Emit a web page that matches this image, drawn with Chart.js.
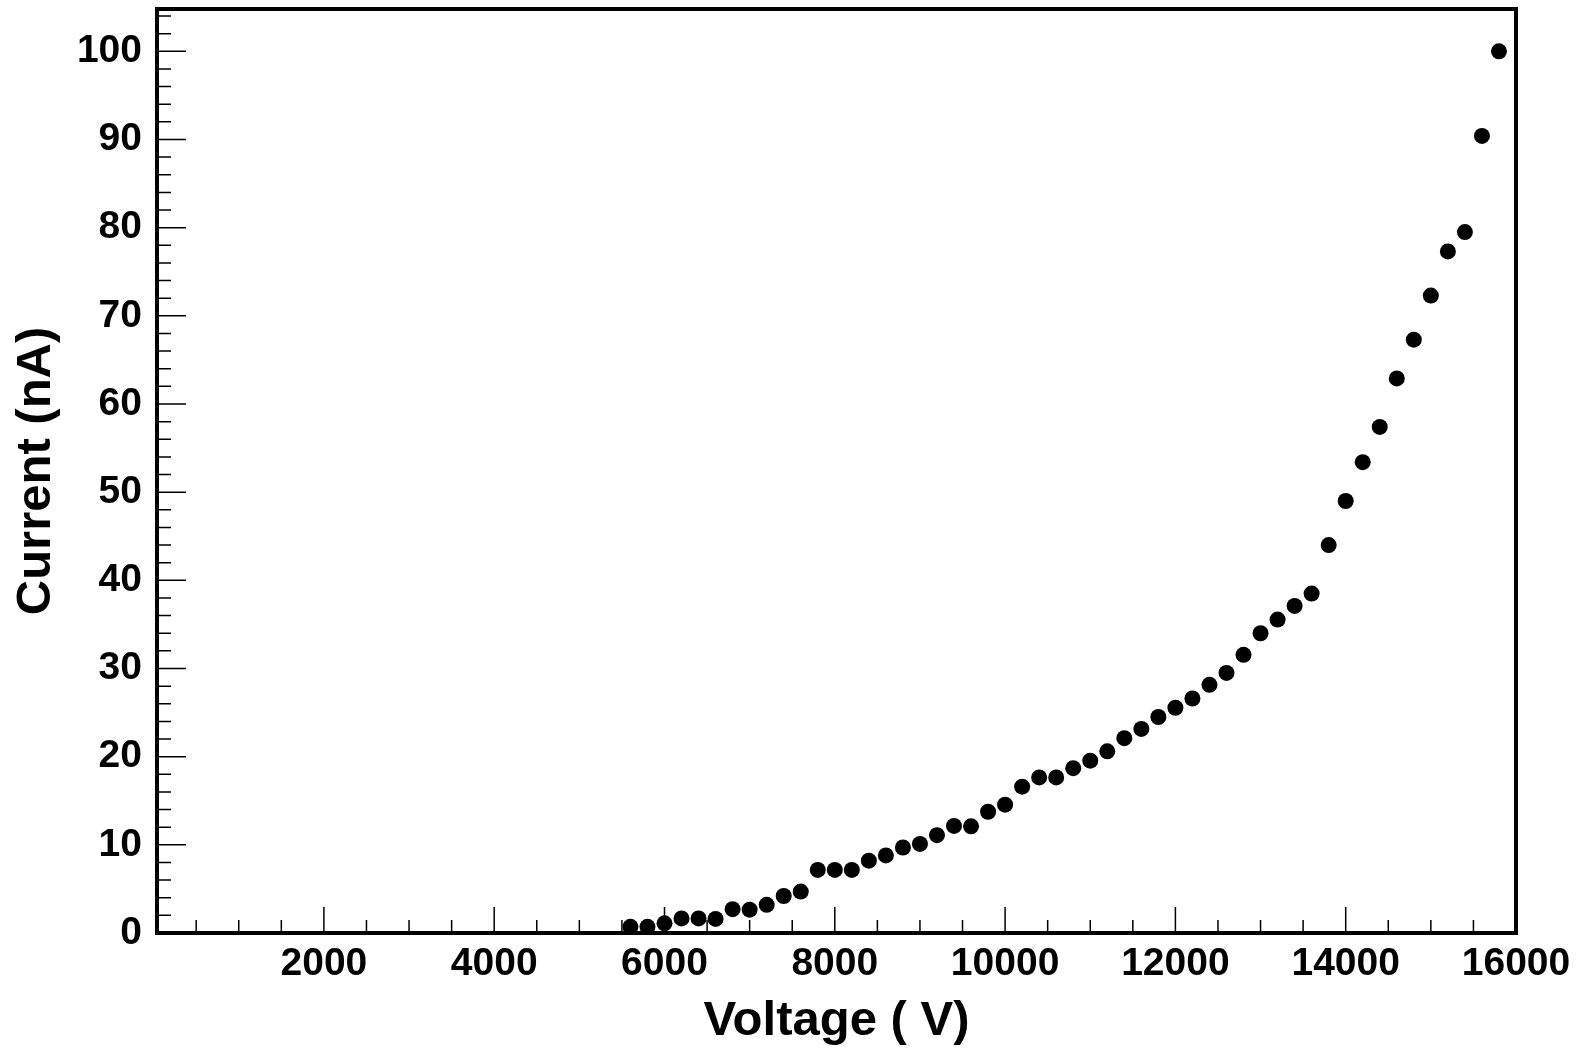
<!DOCTYPE html>
<html>
<head>
<meta charset="utf-8">
<title>Current vs Voltage</title>
<script src="https://cdn.jsdelivr.net/npm/chart.js@4"></script>
<style>
  html, body { margin: 0; padding: 0; background: #fff; }
  #wrap { width: 1578px; height: 1052px; }
</style>
</head>
<body>
<div id="wrap"><canvas id="iv-chart" width="1578" height="1052"></canvas></div>
<script>
// scan points: supply voltage (V) and measured current (nA)
var voltage = [5600, 5800, 6000, 6200, 6400, 6600, 6800, 7000, 7200, 7400,
    7600, 7800, 8000, 8200, 8400, 8600, 8800, 9000, 9200, 9400,
    9600, 9800, 10000, 10200, 10400, 10600, 10800, 11000, 11200, 11400,
    11600, 11800, 12000, 12200, 12400, 12600, 12800, 13000, 13200, 13400,
    13600, 13800, 14000, 14200, 14400, 14600, 14800, 15000, 15200, 15400,
    15600, 15800]
var current = [0.7, 0.7, 1.1, 1.65, 1.65, 1.6, 2.7, 2.65, 3.2, 4.2,
    4.7, 7.15, 7.15, 7.15, 8.2, 8.8, 9.7, 10.1, 11.1, 12.15,
    12.1, 13.75, 14.55, 16.6, 17.65, 17.65, 18.7, 19.55, 20.6, 22.1,
    23.15, 24.5, 25.55, 26.6, 28.15, 29.5, 31.55, 34.0, 35.55, 37.1,
    38.5, 44.0, 49.0, 53.4, 57.4, 62.9, 67.3, 72.3, 77.3, 79.5,
    90.4, 100.0]

var xTicks = [2000, 4000, 6000, 8000, 10000, 12000, 14000, 16000]
var yTicks = [0, 10, 20, 30, 40, 50, 60, 70, 80, 90, 100]
var xMinorStep = 500
var yMinorStep = 2

var points = voltage.map(function (v, i) { return { x: v, y: current[i] } })
var labelFont = { family: "'Liberation Sans', Arial, Helvetica, sans-serif", size: 39, weight: 'bold' }
var titleFont = { family: "'Liberation Sans', Arial, Helvetica, sans-serif", size: 49, weight: 'bold' }

// ROOT style box: thick frame with ticks pointing inward
var frameTicks = {
    id: 'frameTicks',
    beforeDatasetsDraw: function (chart) {
        var ctx = chart.ctx
        var a = chart.chartArea
        var xs = chart.scales.x
        var ys = chart.scales.y
        ctx.save()
        ctx.strokeStyle = '#000'
        ctx.lineWidth = 1.5
        ctx.beginPath()
        for (var v = Math.ceil(xs.min / xMinorStep) * xMinorStep; v <= xs.max; v += xMinorStep) {
            var px = xs.getPixelForValue(v)
            var len = xTicks.indexOf(v) >= 0 ? 26 : 13
            ctx.moveTo(px, a.bottom)
            ctx.lineTo(px, a.bottom - len)
        }
        for (var c = Math.ceil(ys.min / yMinorStep) * yMinorStep; c <= ys.max; c += yMinorStep) {
            var py = ys.getPixelForValue(c)
            var l2 = yTicks.indexOf(c) >= 0 ? 29 : 14
            ctx.moveTo(a.left, py)
            ctx.lineTo(a.left + l2, py)
        }
        ctx.stroke()
        ctx.lineWidth = 4
        ctx.strokeRect(a.left, a.top, a.right - a.left, a.bottom - a.top)
        ctx.restore()
    }
}

var ivChart = new Chart(document.getElementById('iv-chart').getContext('2d'), {
    type: 'scatter',
    data: {
        datasets: [{
            label: 'Current',
            data: points,
            backgroundColor: '#000',
            borderColor: '#000',
            pointRadius: 8,
            pointBorderWidth: 0,
            clip: false
        }]
    },
    options: {
        responsive: false,
        animation: false,
        layout: { padding: { top: 9, right: 62, left: 0, bottom: 0 } },
        plugins: {
            legend: { display: false },
            tooltip: { enabled: false }
        },
        scales: {
            x: {
                type: 'linear',
                min: 40,
                max: 16000,
                afterBuildTicks: function (scale) {
                    scale.ticks = xTicks.map(function (v) { return { value: v } })
                },
                afterFit: function (scale) {
                    scale.height = 119
                    scale.paddingLeft = 0
                    scale.paddingRight = 0
                },
                grid: { display: false, drawTicks: false },
                border: { display: false },
                ticks: {
                    color: '#000',
                    font: labelFont,
                    padding: 8,
                    maxRotation: 0,
                    autoSkip: false,
                    callback: function (v) { return String(v) }
                },
                title: {
                    display: true,
                    text: 'Voltage ( V)',
                    color: '#000',
                    font: titleFont,
                    padding: { top: 0, bottom: 1 }
                }
            },
            y: {
                type: 'linear',
                min: 0,
                max: 104.8,
                afterBuildTicks: function (scale) {
                    scale.ticks = yTicks.map(function (v) { return { value: v } })
                },
                afterFit: function (scale) {
                    scale.width = 157
                    scale.paddingTop = 0
                    scale.paddingBottom = 0
                },
                grid: { display: false, drawTicks: false },
                border: { display: false },
                ticks: {
                    color: '#000',
                    font: labelFont,
                    padding: 15,
                    autoSkip: false,
                    callback: function (v) { return String(v) }
                },
                title: {
                    display: true,
                    text: 'Current (nA)',
                    color: '#000',
                    font: titleFont,
                    padding: { top: 7, bottom: 0 }
                }
            }
        }
    },
    plugins: [frameTicks]
})
</script>
</body>
</html>
